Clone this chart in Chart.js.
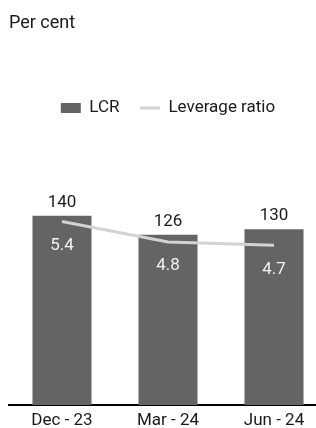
<!DOCTYPE html>
<html>
<head>
<meta charset="utf-8">
<script src="https://cdn.jsdelivr.net/npm/chart.js@4"></script>
<style>
  html, body { margin: 0; padding: 0; background: #fff; overflow: hidden; }
  #wrap { width: 316px; height: 428px; overflow: hidden; }
</style>
</head>
<body>
<div id="wrap"><canvas id="chart" width="328" height="428"></canvas></div>
<script>
const categories = ['Dec - 23', 'Mar - 24', 'Jun - 24'];
const lcr = [140, 126, 130];
const leverage = [5.4, 4.8, 4.7];

const FONT = 'Roboto, "Liberation Sans", sans-serif';

// draws the value labels on bars and line points
const valueLabels = {
  id: 'valueLabels',
  afterDatasetsDraw(chart) {
    const ctx = chart.ctx;
    ctx.save();
    ctx.font = '17px ' + FONT;
    ctx.textAlign = 'center';
    ctx.textBaseline = 'middle';
    chart.getDatasetMeta(0).data.forEach((el, i) => {
      ctx.fillStyle = '#1a1a1a';
      ctx.fillText(lcr[i], el.x, el.y - 13);
    });
    chart.getDatasetMeta(1).data.forEach((el, i) => {
      ctx.fillStyle = '#f2f2f2';
      ctx.fillText(leverage[i].toFixed(1), el.x, el.y + 24);
    });
    ctx.restore();
  }
};

new Chart(document.getElementById('chart'), {
  data: {
    labels: categories,
    datasets: [{
      type: 'bar',
      label: 'LCR',
      data: lcr,
      backgroundColor: '#646464',
      barPercentage: 0.557,
      categoryPercentage: 1,
      yAxisID: 'y',
      order: 1
    }, {
      type: 'line',
      label: 'Leverage ratio',
      data: leverage,
      borderColor: '#d3d3d3',
      backgroundColor: '#d3d3d3',
      borderWidth: 3,
      pointRadius: 0,
      tension: 0,
      yAxisID: 'y1',
      order: 0
    }]
  },
  options: {
    responsive: false,
    animation: false,
    layout: { padding: { left: 9, right: 1, top: 0, bottom: -9 } },
    plugins: {
      tooltip: { enabled: false },
      title: {
        display: true,
        text: 'Per cent',
        align: 'start',
        color: '#1a1a1a',
        font: { family: FONT, size: 18, weight: 'normal' },
        padding: { top: 13, bottom: 44.4 }
      },
      legend: {
        display: true,
        labels: {
          usePointStyle: true,
          pointStyleWidth: 20,
          boxHeight: 10,
          padding: 20.5,
          color: '#1a1a1a',
          font: { family: FONT, size: 17 },
          generateLabels: () => [
            { text: 'LCR', pointStyle: 'rect', fillStyle: '#646464', strokeStyle: '#646464', lineWidth: 0, datasetIndex: 0, fontColor: '#1a1a1a' },
            { text: 'Leverage ratio', pointStyle: 'line', fillStyle: '#d3d3d3', strokeStyle: '#d3d3d3', lineWidth: 3, datasetIndex: 1, fontColor: '#1a1a1a' }
          ]
        }
      }
    },
    scales: {
      x: {
        grid: { display: false, drawTicks: false, tickLength: 0 },
        border: { color: '#000', width: 2 },
        ticks: {
          color: '#1a1a1a',
          padding: 7.5,
          font: { family: FONT, size: 17, lineHeight: 1 }
        }
      },
      y: { display: false, min: 0, max: 206 },
      y1: { display: false, min: 0, max: 8.2 }
    }
  },
  plugins: [valueLabels]
});
</script>
</body>
</html>
